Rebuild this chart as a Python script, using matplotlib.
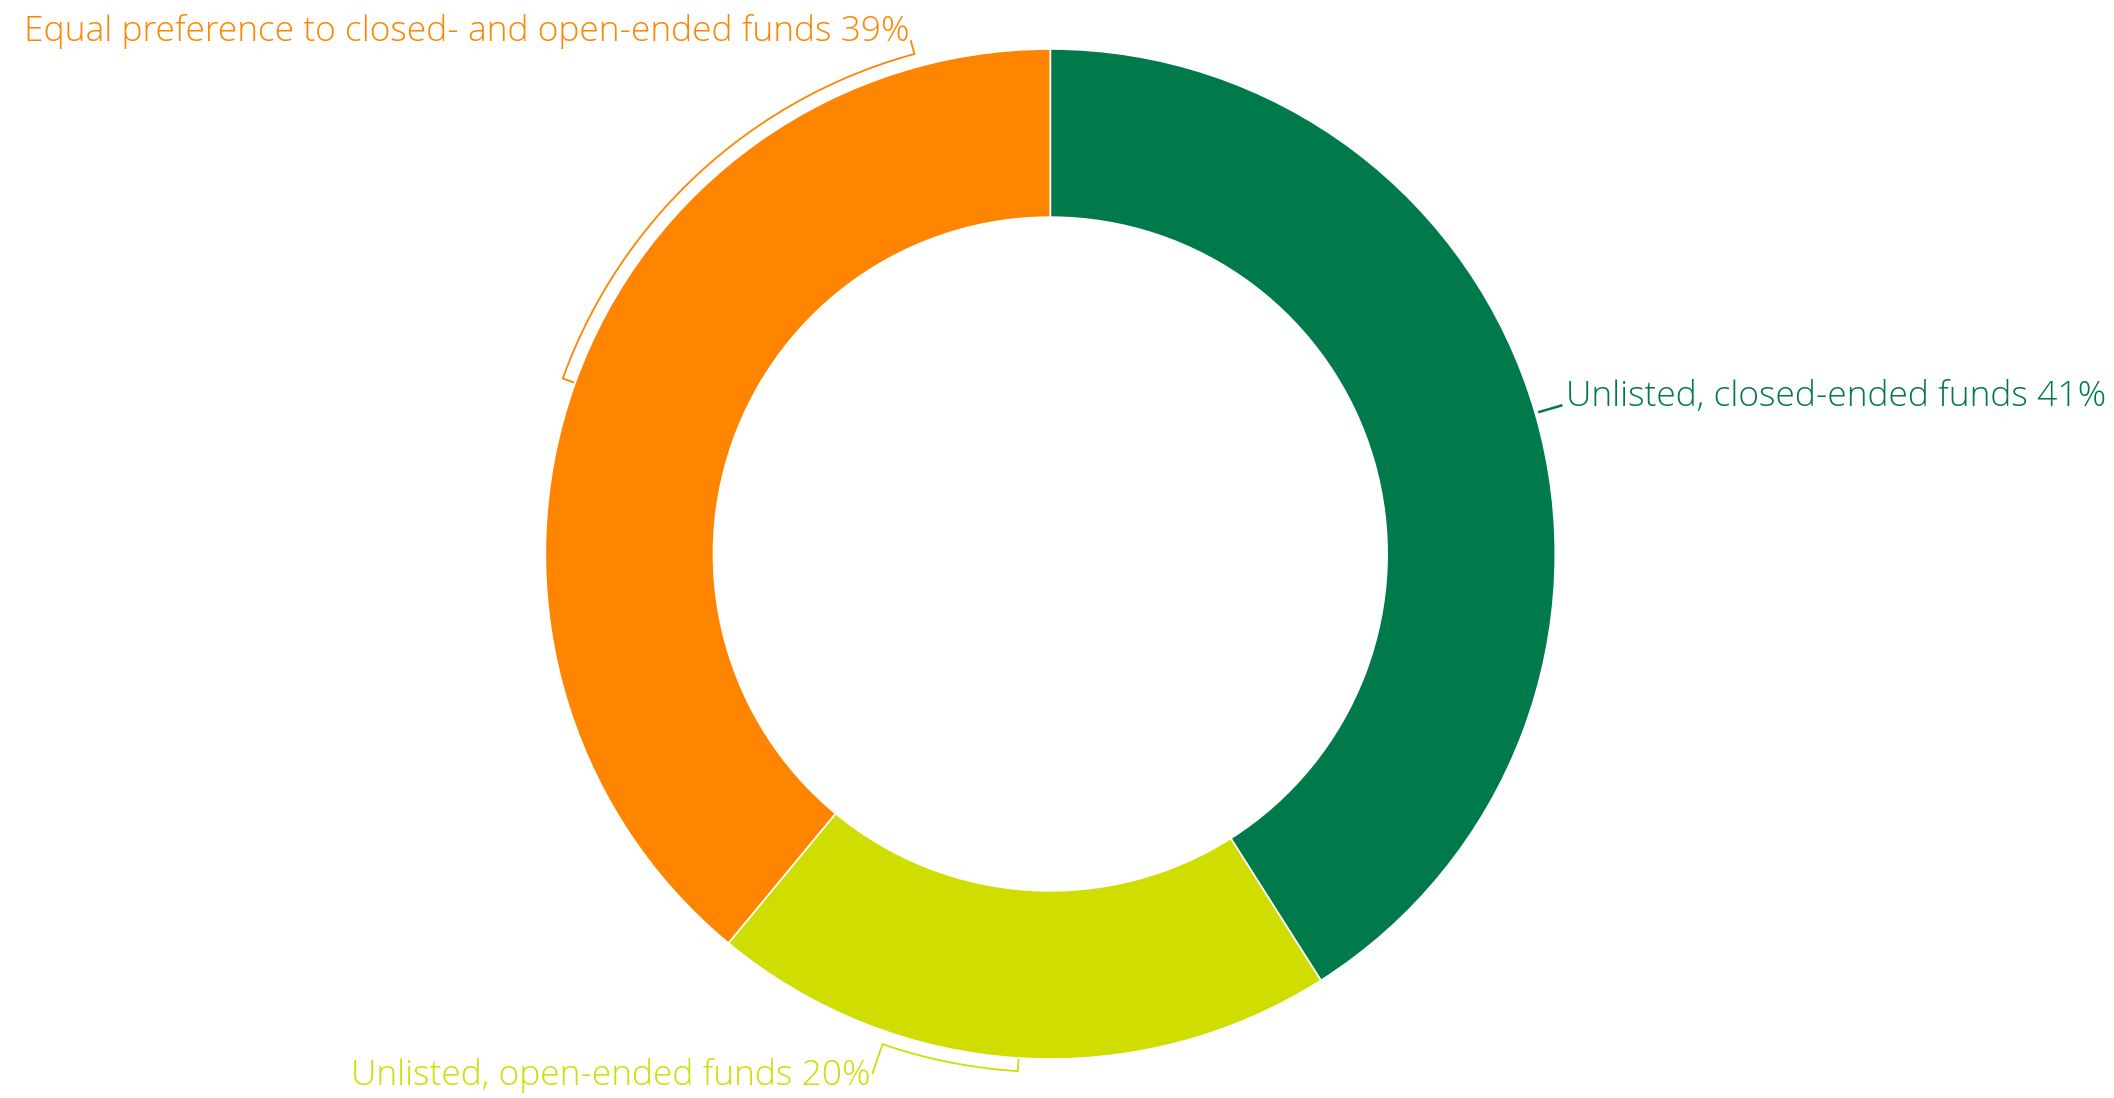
import numpy as np
import matplotlib
matplotlib.use("Agg")
import matplotlib.pyplot as plt

labels = ["Unlisted, closed-ended funds", "Unlisted, open-ended funds",
          "Equal preference to closed- and open-ended funds"]
values = [41, 20, 39]
colors = ["#00794B", "#CFDD00", "#FF8500"]

W, H = 2114, 1098
cx, cy, R = 1050.3, 554.0, 505.0   # pixel centre / outer radius

plt.rcParams["font.family"] = ["Open Sans", "DejaVu Sans"]
fs = 25.5

fig = plt.figure(figsize=(W / 100, H / 100), dpi=100)
ax = fig.add_axes([0, 0, 1, 1])

wedges, _ = ax.pie(values, colors=colors, startangle=90, counterclock=False,
                   radius=1.0, wedgeprops=dict(width=0.333, edgecolor="white", linewidth=1.2))

ax.set_xlim(-cx / R, (W - cx) / R)
ax.set_ylim(-(H - cy) / R, cy / R)
ax.set_aspect("equal")
ax.axis("off")


def px(x, y):
    return (x - cx) / R, (cy - y) / R


def pol(r, a):
    t = np.radians(a)
    return r * np.cos(t), r * np.sin(t)


mids = [((w.theta1 + w.theta2) / 2 + 180) % 360 - 180 for w in wedges]

# green: short radial tick
g = mids[0]
x0, y0 = pol(1.006, g)
x1, y1 = pol(1.056, g)
ax.plot([x0, x1], [y0, y1], color=colors[0], lw=1.8, solid_capstyle="butt")
tx, ty = px(1566, 406)
ax.text(tx, ty, f"{labels[0]} {values[0]}%", color=colors[0], fontsize=fs,
        fontweight="light", ha="left", va="baseline")


def bracket(mid, end, r_out, color):
    # inward tick at the wedge middle, arc along the rim, then out to the label
    a = np.linspace(mid, end, 80)
    arc = np.array([pol(1.026, t) for t in a])
    xi, yi = pol(1.004, mid)
    xo, yo = pol(r_out, end)
    xs = [xi] + list(arc[:, 0]) + [xo]
    ys = [yi] + list(arc[:, 1]) + [yo]
    ax.plot(xs, ys, color=color, lw=1.3, solid_joinstyle="miter")


bracket(mids[2], 105.2, 1.0525, colors[2])
tx, ty = px(910, 40.7)
ax.text(tx, ty, f"{labels[2]} {values[2]}%", color=colors[2], fontsize=fs,
        fontweight="light", ha="right", va="baseline")

bracket(mids[1], -108.9, 1.0865, colors[1])
tx, ty = px(871, 1085)
ax.text(tx, ty, f"{labels[1]} {values[1]}%", color=colors[1], fontsize=fs,
        fontweight="light", ha="right", va="baseline")

fig.savefig("out.png", dpi=100, facecolor="white")
